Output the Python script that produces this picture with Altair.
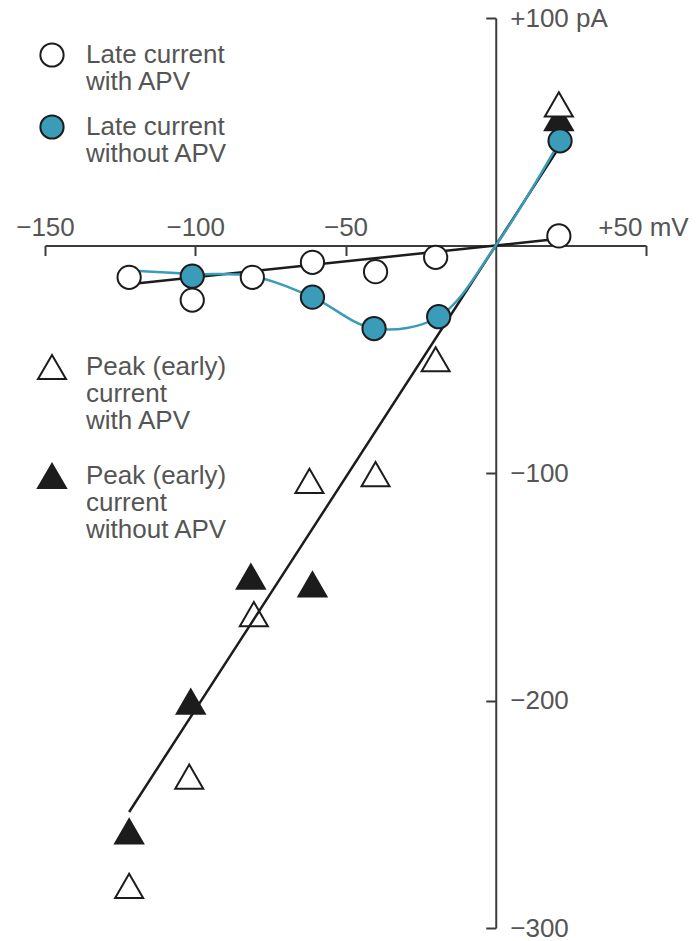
import altair as alt
import pandas as pd

# ---- data (x: membrane potential mV, y: current pA) ----
# Late current with APV (open circles)
late_apv_mv = [-122, -101, -81, -61, -40, -20, 21]
late_apv_pa = [-14, -24, -14, -7.4, -11.5, -5.2, 4.2]
# Late current without APV (teal filled circles)
late_noapv_mv = [-101, -61, -40.5, -19, 21.4]
late_noapv_pa = [-13.5, -22.7, -36.5, -31.3, 46]
# smooth teal curve drawn through the late current without APV
curve_mv = [-122, -101, -81, -61, -40.5, -19, 0, 21.4]
curve_pa = [-11, -12.5, -13.5, -22.7, -36.5, -31.3, 0, 46]
# Peak (early) current with APV (open triangles)
peak_apv_mv = [-122, -102, -80.5, -62, -40, -20, 21]
peak_apv_pa = [-281.5, -233.5, -162, -103.5, -100.5, -50, 62]
# Peak (early) current without APV (filled triangles)
peak_noapv_mv = [-122, -101.5, -81.5, -61, 21]
peak_noapv_pa = [-257.5, -200.5, -145.5, -149, 56]
# straight fitted lines
fit_late_mv = [-122, 0, 21]
fit_late_pa = [-17, 0, 3]
fit_peak_mv = [-122, 0, 20]
fit_peak_pa = [-249, 0, 41]

late_labels = ["Late current|with APV", "Late current|without APV"]
peak_labels = ["Peak (early)|current|with APV", "Peak (early)|current|without APV"]

x_ticks = [-150, -100, -50, 50]
x_tick_labels = ["\u2212150", "\u2212100", "\u221250", "+50 mV"]
y_ticks = [100, -100, -200, -300]
y_tick_labels = ["+100 pA", "\u2212100", "\u2212200", "\u2212300"]

TEAL = "#3a9cb8"
INK = "#1c1c1c"
AXIS = "#3c3c3c"
TEXT = "#555555"
FONT = "Liberation Sans"
FS = 26


def label_expr(vals, labs):
    expr = "''"
    for v, l in reversed(list(zip(vals, labs))):
        expr = f"datum.value == {v} ? '{l}' : ({expr})"
    return expr


circ_df = pd.DataFrame({
    "mv": late_apv_mv + late_noapv_mv,
    "pa": late_apv_pa + late_noapv_pa,
    "late": [late_labels[0]] * len(late_apv_mv) + [late_labels[1]] * len(late_noapv_mv),
})
tri_df = pd.DataFrame({
    "mv": peak_noapv_mv + peak_apv_mv,
    "pa": peak_noapv_pa + peak_apv_pa,
    "peak": [peak_labels[1]] * len(peak_noapv_mv) + [peak_labels[0]] * len(peak_apv_mv),
})
fit_df = pd.DataFrame({
    "mv": fit_late_mv + fit_peak_mv,
    "pa": fit_late_pa + fit_peak_pa,
    "fit": ["late"] * len(fit_late_mv) + ["peak"] * len(fit_peak_mv),
})
curve_df = pd.DataFrame({"mv": curve_mv, "pa": curve_pa})

W, H = 601, 910
xscale = alt.Scale(domain=[-150, 50], nice=False, zero=False)
yscale = alt.Scale(domain=[-300, 100], nice=False, zero=False)

xaxis = alt.Axis(
    title=None, orient="bottom", offset=-(H * 300 / 400), values=x_ticks,
    labelExpr=label_expr(x_ticks, x_tick_labels), grid=False,
    tickSize=10, tickWidth=2, tickColor=AXIS, domainWidth=2, domainColor=AXIS,
    labelFont=FONT, labelFontSize=FS, labelColor=TEXT, labelFlush=False,
    labelOverlap=False, labelBaseline="alphabetic", labelPadding=-20,
    labelOffset={"condition": {"test": f"datum.value == {x_ticks[-1]}", "value": -3}, "value": 0},
)
yaxis = alt.Axis(
    title=None, orient="left", offset=-(W * 150 / 200), values=y_ticks,
    labelExpr=label_expr(y_ticks, y_tick_labels), grid=False,
    tickSize=10, tickWidth=2, tickColor=AXIS, domainWidth=2, domainColor=AXIS,
    labelFont=FONT, labelFontSize=FS, labelColor=TEXT, labelFlush=False,
    labelOverlap=False, labelAlign="left", labelBaseline="middle", labelPadding=-24,
)
X = alt.X("mv:Q", scale=xscale, axis=xaxis)
Y = alt.Y("pa:Q", scale=yscale, axis=yaxis)

tri = alt.Chart(tri_df).mark_point(
    shape="triangle-up", filled=True, size=784, stroke=INK, strokeWidth=2, opacity=1
).encode(
    x=X, y=Y,
    fill=alt.Fill("peak:N", scale=alt.Scale(domain=peak_labels, range=["white", INK]),
                  legend=alt.Legend(
                      title=None, orient="none", legendX=-8, legendY=334,
                      symbolType="triangle-up", symbolSize=784, symbolStrokeWidth=2,
                      symbolStrokeColor=INK, symbolOpacity=1,
                      labelFont=FONT, labelFontSize=FS, labelColor=TEXT,
                      labelExpr="split(datum.label, '|')", labelLimit=500,
                      labelOffset=19, rowPadding=25, padding=0)),
)

fits = alt.Chart(fit_df).mark_line(color=INK, strokeWidth=2.5).encode(
    x=X, y=Y, detail="fit:N"
)
teal = alt.Chart(curve_df).mark_line(color=TEAL, strokeWidth=2.5, interpolate="catmull-rom").encode(
    x=X, y=Y
)

circ = alt.Chart(circ_df).mark_point(
    shape="circle", filled=True, size=540, stroke=INK, strokeWidth=2, opacity=1
).encode(
    x=X, y=Y,
    fill=alt.Fill("late:N", scale=alt.Scale(domain=late_labels, range=["white", TEAL]),
                  legend=alt.Legend(
                      title=None, orient="none", legendX=-6, legendY=24,
                      symbolType="circle", symbolSize=540, symbolStrokeWidth=2,
                      symbolStrokeColor=INK, symbolOpacity=1,
                      labelFont=FONT, labelFontSize=FS, labelColor=TEXT,
                      labelExpr="split(datum.label, '|')", labelLimit=500,
                      labelOffset=21, rowPadding=16, padding=0)),
)

chart = alt.layer(tri, fits, teal, circ).resolve_scale(fill="independent").properties(
    width=W, height=H,
    autosize=alt.AutoSizeParams(type="none"),
    padding={"left": 37, "top": 10, "right": 43, "bottom": 13},
    background="white",
).configure(
    view=alt.ViewConfig(stroke=None),
    style={"guide-label": {"lineHeight": 27}},
)

chart.save("out.html", embed_options={"renderer": "svg", "actions": False})
